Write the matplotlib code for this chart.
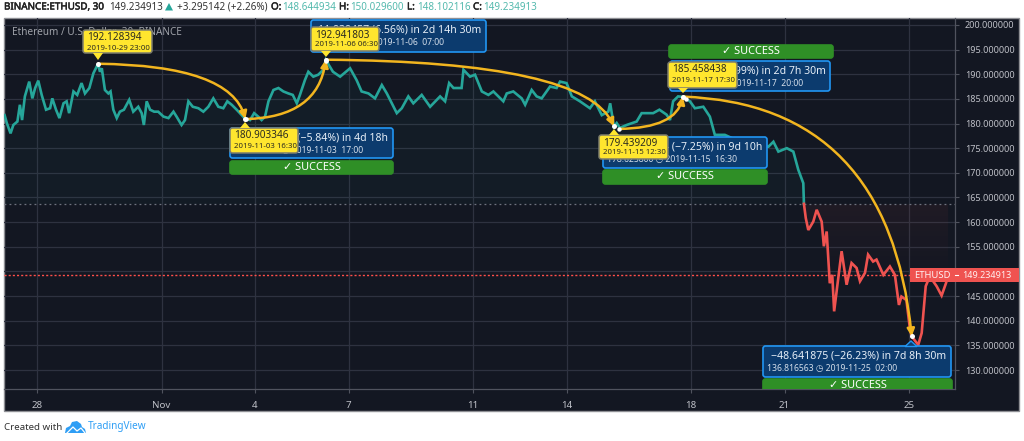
#!/usr/bin/env python
"""ETHUSD 30 min baseline chart with long/short annotations (TradingView look)."""
import numpy as np
import matplotlib
matplotlib.use("Agg")
import matplotlib.pyplot as plt
import matplotlib.patheffects as pe
from matplotlib.patches import FancyArrowPatch, FancyBboxPatch, Polygon, Rectangle
from matplotlib.path import Path

plt.rcParams["font.family"] = ["Noto Sans", "DejaVu Sans"]

BG = "#131722"
GRID = "#2e3240"
AXIS = "#50535e"
TEAL = "#26a69a"
RED = "#ef5350"
ARROW = "#f2b51f"
YELLOW = "#ffe62e"
NAVY = "#0c3b6e"
BLUE = "#2196f3"
GREEN = "#2f8f26"

# days since Oct 28 and close price
up_days = [-1.04, -0.97, -0.85, -0.76, -0.63, -0.55, -0.48, -0.39, -0.25, -0.15, -0.06, 0.04,
           0.15, 0.29, 0.42, 0.49, 0.61, 0.72, 0.85, 0.95, 1.03, 1.17, 1.29, 1.43, 1.54, 1.68,
           1.81, 1.96, 2.02, 2.08, 2.18, 2.29, 2.36, 2.45, 2.56, 2.66, 2.79, 2.96, 3.09, 3.25,
           3.36, 3.43, 3.52, 3.63, 3.76, 3.89, 4.06, 4.22, 4.38, 4.48, 4.64, 4.75, 4.86, 5.0,
           5.18, 5.34, 5.5, 5.66, 5.82, 5.98, 6.11, 6.25, 6.41, 6.57, 6.69, 6.84, 6.97, 7.1,
           7.21, 7.32, 7.43, 7.59, 7.75, 7.91, 8.07, 8.21, 8.34, 8.44, 8.6, 8.71, 8.87, 9.03,
           9.19, 9.27, 9.5, 9.73, 10.05, 10.26, 10.42, 10.64, 10.85, 11.07, 11.23, 11.39, 11.55,
           11.71, 11.92, 12.08, 12.35, 12.62, 12.94, 13.1, 13.23, 13.37, 13.63, 13.69, 13.9,
           14.06, 14.28, 14.49, 14.65, 14.97, 15.08, 15.29, 15.56, 15.67, 15.88, 16.04, 16.2,
           16.47, 16.68, 16.79, 17.0, 17.17, 17.43, 17.75, 17.91, 18.13, 18.34, 18.4, 18.52,
           18.61, 18.71, 18.93, 19.25, 19.41, 19.78, 19.98, 20.21, 20.32, 20.42, 20.58, 20.73,
           20.96, 21.12, 21.39, 21.6, 21.76, 22.08, 22.5, 23.0, 23.48, 23.64, 23.8, 24.07,
           24.28, 24.44, 24.6, 24.62]
up_prices = [181.7, 180.1, 178.0, 179.7, 180.4, 183.8, 180.7, 185.5, 188.5, 185.1, 187.2, 188.7,
             185.8, 182.8, 183.1, 185.1, 182.8, 181.1, 184.1, 184.5, 182.1, 186.5, 185.8, 188.2,
             186.1, 187.2, 190.2, 192.1, 190.5, 191.2, 186.8, 186.1, 186.5, 182.8, 181.1, 182.4,
             182.8, 184.8, 182.4, 183.4, 182.1, 179.7, 184.5, 182.8, 182.4, 182.4, 181.4, 181.1,
             182.4, 181.4, 179.7, 180.7, 184.5, 183.4, 183.1, 182.4, 183.4, 185.1, 183.4, 183.1,
             184.5, 183.8, 182.8, 181.7, 180.9, 180.7, 182.1, 181.4, 180.7, 181.4, 184.5, 186.8,
             187.2, 186.5, 186.1, 185.8, 184.1, 185.8, 188.8, 190.5, 189.5, 189.9, 190.9, 192.9,
             190.5, 189.5, 191.2, 188.8, 186.5, 186.1, 185.1, 187.8, 186.1, 184.1, 182.1, 183.1,
             185.5, 184.1, 185.8, 183.4, 185.5, 184.5, 188.2, 187.2, 187.2, 190.9, 189.5, 189.9,
             186.5, 185.8, 186.5, 184.5, 186.1, 186.5, 185.1, 183.8, 186.8, 185.5, 185.1, 187.5,
             187.2, 188.5, 188.2, 185.5, 184.5, 183.1, 184.5, 181.7, 182.4, 184.1, 179.4, 180.1,
             179.1, 179.7, 180.4, 182.1, 182.1, 182.8, 181.8, 180.7, 184.5, 185.5, 185.4, 184.5,
             183.1, 183.4, 181.4, 177.7, 177.7, 176.5, 175.5, 175.3, 176.3, 174.3, 175.0, 174.3,
             170.6, 167.9, 163.7]
down_days = [24.62, 24.68, 24.76, 24.92, 25.03, 25.19, 25.26, 25.35, 25.45, 25.53, 25.59, 25.69,
             25.83, 25.99, 26.15, 26.31, 26.42, 26.58, 26.68, 26.84, 26.95, 27.17, 27.38, 27.54,
             27.67, 27.75, 27.91, 28.02, 28.08, 28.29, 28.4, 28.53, 28.66, 28.88, 29.04, 29.18,
             29.25]
down_prices = [163.7, 160.8, 158.4, 160.1, 162.5, 160.1, 155.1, 158.1, 147.6, 149.3, 141.9, 147.0,
               154.1, 147.3, 151.7, 150.7, 148.0, 149.7, 153.4, 152.0, 152.4, 149.3, 151.0, 149.3,
               143.2, 144.9, 144.2, 138.5, 136.8, 135.1, 137.5, 147.0, 149.0, 147.0, 145.1, 147.6,
               149.2]

baseline = 163.6
last_price = 149.234913

# drawn position points
anchor_days = [1.96, 6.69, 9.27, 18.52, 20.73, 28.08]
anchor_prices = [192.128394, 180.903346, 192.941803, 179.439209, 185.458438, 136.816563]
exit_days = [6.71, 9.29, 18.69, 20.83]
exit_prices = [180.9, 192.7, 178.9, 184.9]
arrow_pairs = [(0, 1), (1, 2), (2, 3), (3, 4), (4, 5)]

tick_days = [0, 4, 7, 10, 14, 17, 21, 24, 28]
tick_names = ["28", "Nov", "4", "7", "11", "14", "18", "21", "25"]
price_ticks = list(range(130, 201, 5))

# yellow labels: px box (left, top, right, bottom), pointer tip, price, time
yellow_boxes = [
    ((83, 30, 152, 53), (98, 60), "192.128394", "2019-10-29 23:00"),
    ((230, 128, 298, 153), (245, 122), "180.903346", "2019-11-03 16:30"),
    ((311, 27, 379, 51), (326, 57), "192.941803", "2019-11-06 06:30"),
    ((599, 135, 668, 159), (614, 129), "179.439209", "2019-11-15 12:30"),
    ((668, 62, 737, 88), (683, 93), "185.458438", "2019-11-17 17:30"),
]
# blue labels: px box, px end of each row, change text, target text
blue_boxes = [
    ((230, 128, 393, 158), 388, 363, "\u221211.224... (\u22125.84%) in 4d 18h", "180.903346 \u25f7 2019-11-03  17:00"),
    ((311, 20, 486, 52), 481, 444, "+11.838457 (6.56%) in 2d 14h 30m", "192.741803 \u25f7 2019-11-06  07:00"),
    ((603, 137, 767, 168), 762, 737, "\u221213.502594 (\u22127.25%) in 9d 10h", "178.625800 \u25f7 2019-11-15  16:30"),
    ((670, 61, 830, 91), 826, 803, "+6.019229 (3.99%) in 2d 7h 30m", "185.458438 \u25f7 2019-11-17  20:00"),
    ((763, 346, 951, 377), 946, 897, "\u221248.641875 (\u221226.23%) in 7d 8h 30m", "136.816563 \u25f7 2019-11-25  02:00"),
]
success_boxes = [(230, 161, 393, 174), (603, 170, 767, 184), (669, 45, 833, 58), (763, 379, 952, 396)]

# header pieces: px x, text, colour, bold
header = [
    (4, "BINANCE:ETHUSD, 30", "#222222", True),
    (109, "149.234913", "#333333", False),
    (177, "+3.295142 (+2.26%)", "#333333", False),
    (271, "O:", "#222222", True),
    (282, "148.644934", "#53b9ad", False),
    (339, "H:", "#222222", True),
    (350, "150.029600", "#53b9ad", False),
    (407, "L:", "#222222", True),
    (417, "148.102116", "#53b9ad", False),
    (473, "C:", "#222222", True),
    (483, "149.234913", "#53b9ad", False),
]


def gradient_fill(ax, days, prices, rgb, top, bottom, a_top, a_bottom):
    """vertical alpha gradient between the line and the baseline"""
    poly = ax.fill_between(days, prices, baseline, color="none", lw=0)
    grad = np.zeros((64, 2, 4))
    grad[..., :3] = matplotlib.colors.to_rgb(rgb)
    grad[..., 3] = np.linspace(a_top, a_bottom, 64)[:, None]
    xlim, ylim = ax.get_xlim(), ax.get_ylim()
    im = ax.imshow(grad, extent=(days[0], days[-1], bottom, top), aspect="auto", origin="upper", zorder=1)
    im.set_clip_path(poly.get_paths()[0], transform=ax.transData)
    ax.set_xlim(xlim); ax.set_ylim(ylim)


def curve(ax, x0, y0, x1, y1):
    # leaves flat, lands steep, same as the drawn trend arrows
    ctrl = (x0 + 0.9 * (x1 - x0), y0 + 0.03 * (y1 - y0))
    path = Path([(x0, y0), ctrl, (x1, y1)], [Path.MOVETO, Path.CURVE3, Path.CURVE3])
    ax.add_patch(FancyArrowPatch(path=path, transform=ax.transData, arrowstyle="-|>", color=ARROW,
                                 lw=1.8, mutation_scale=11, zorder=5))


def rounded(ov, box, face, edge=None, lw=1.2, pad=1.5, z=3):
    l, t, r, b = box
    p = FancyBboxPatch((l + pad, t + pad), r - l - 2 * pad, b - t - 2 * pad,
                       boxstyle=f"round,pad={pad},rounding_size=2.5", fc=face,
                       ec=edge if edge else face, lw=lw, zorder=z)
    ov.add_patch(p)
    return p


def main():
    fig = plt.figure(figsize=(10.24, 4.41), dpi=100, facecolor="white")
    W, H = 1024.0, 441.0
    heavy = [pe.withStroke(linewidth=0.35, foreground="#222222")]

    # background panel, pixels
    bg = fig.add_axes([0, 0, 1, 1], zorder=0)
    bg.set_xlim(0, W); bg.set_ylim(H, 0); bg.axis("off")
    bg.add_patch(Rectangle((4, 18), 1015, 393, fc=BG, ec="#8e8f94", lw=1))

    # price pane
    ax = fig.add_axes([4 / W, 1 - 389 / H, 951 / W, 371 / H], zorder=1)
    ax.patch.set_visible(False)
    ax.set_xlim(-1.06, 29.47)
    ax.set_ylim(126.15, 201.4)
    ax.set_xticks(tick_days, tick_names)
    ax.set_yticks(price_ticks, [f"{p:.6f}" for p in price_ticks])
    ax.yaxis.tick_right()
    ax.tick_params(axis="both", colors=AXIS, length=3, width=0.8, pad=4, labelcolor="#bfc1c8", labelsize=6.5)
    ax.tick_params(axis="x", pad=6, labelsize=7)
    ax.grid(True, color=GRID, lw=0.9)
    ax.set_axisbelow(True)
    for s in ("top", "left"):
        ax.spines[s].set_visible(False)
    for s in ("right", "bottom"):
        ax.spines[s].set_color(AXIS); ax.spines[s].set_linewidth(0.9)

    gradient_fill(ax, up_days, up_prices, TEAL, 193, baseline, 0.05, 0.035)
    gradient_fill(ax, down_days, down_prices, RED, baseline, 148, 0.06, 0.0)
    ax.axhline(baseline, color="#6f737f", lw=0.9, ls=(0, (1.5, 2.5)), zorder=2)
    ax.axhline(last_price, color="#ff4f4a", lw=1.0, ls=(0, (1.5, 1.5)), zorder=2)
    ax.plot(up_days, up_prices, color=TEAL, lw=1.9, zorder=3, solid_joinstyle="miter")
    ax.plot(down_days, down_prices, color=RED, lw=1.9, zorder=3, solid_joinstyle="miter")

    ax.text(8 / 951, 1 - 14.5 / 371, "Ethereum / U.S. Dollar, 30, BINANCE", transform=ax.transAxes,
            color="#a0a3aa", fontsize=7.2, va="center", zorder=2)

    # overlay for annotation boxes, pixels
    ov = fig.add_axes([0, 0, 1, 1], zorder=2)
    ov.patch.set_visible(False)
    ov.set_xlim(0, W); ov.set_ylim(H, 0); ov.axis("off")

    clip = Rectangle((4, 18), 1015, 371, transform=ov.transData)
    for i, (l, t, r, b) in enumerate(success_boxes):
        p = rounded(ov, (l, t, r, b), GREEN)
        txt = ov.text((l + r) / 2, (t + 6.5), "\u2713 SUCCESS", color="white", fontsize=7.9,
                      fontweight="bold", ha="center", va="center", zorder=4)
        if i == 3:
            p.set_clip_path(clip)
            txt.set_clip_on(True); txt.set_clip_path(clip)

    for (l, t, r, b), end1, end2, line1, line2 in blue_boxes:
        rounded(ov, (l, t, r, b), NAVY, BLUE)
        ov.text(end1, t + 10, line1, color="#e6eef7", fontsize=7.6, ha="right", va="center", zorder=4)
        ov.text(end2, t + 22.5, line2, color="#d5dfeb", fontsize=6.2, ha="right", va="center", zorder=4)
    ov.add_patch(Polygon([(905, 346.5), (911, 341), (917, 346.5)], fc=NAVY, ec=BLUE, lw=1, zorder=3.5))

    for (l, t, r, b), tip, price, when in yellow_boxes:
        mid = tip[0]
        edge_y = b if tip[1] > b else t
        ov.add_patch(Polygon([(mid - 5, edge_y), tip, (mid + 5, edge_y)], fc=YELLOW, ec="none", zorder=4.6))
        rounded(ov, (l, t, r, b), YELLOW, "#7d7d6c", lw=1.1, pad=1, z=4.5)
        ov.text(l + 4, t + 8, price, color="#2b2b20", fontsize=7.2, va="center", zorder=5)
        ov.text(l + 4, t + 18, when, color="#2b2b20", fontsize=5.6, va="center", zorder=5)

    # trend arrows and anchors go above the boxes, in data space
    ax2 = fig.add_axes(ax.get_position(), zorder=3, sharex=ax, sharey=ax)
    ax2.patch.set_visible(False); ax2.axis("off")
    starts = [(anchor_days[0], anchor_prices[0]), (exit_days[0], exit_prices[0]),
              (anchor_days[2], anchor_prices[2]), (exit_days[2], exit_prices[2]),
              (anchor_days[4], anchor_prices[4])]
    for (a, b), (sx, sy) in zip(arrow_pairs, starts):
        curve(ax2, sx, sy, anchor_days[b], anchor_prices[b])
    ax2.plot(anchor_days, anchor_prices, "o", color="white", ms=3.6, mew=0, zorder=6)
    ax2.plot(exit_days, exit_prices, "o", color="white", ms=3.2, mew=0, zorder=6)

    # last price tag
    top = fig.add_axes([0, 0, 1, 1], zorder=4)
    top.patch.set_visible(False)
    top.set_xlim(0, W); top.set_ylim(H, 0); top.axis("off")
    top.add_patch(Rectangle((910, 268), 108.5, 14, fc=RED, ec="none"))
    top.plot([955, 958], [275, 275], color="white", lw=0.8)
    top.text(932.5, 275, "ETHUSD", color="#fff0f0", fontsize=6.8, ha="center", va="center")
    top.text(962, 275, f"{last_price:.6f}", color="#fff0f0", fontsize=6.5, va="center")

    # header row
    for x, s, c, bold in header:
        top.text(x, 7, s, color=c, fontsize=7.1, va="center", fontweight="bold" if bold else "normal",
                 path_effects=heavy if bold else None)
    top.add_patch(Polygon([(165, 10.5), (169, 3), (173, 10.5)], fc="#26a69a", ec="none"))

    # footer with the cloud mark
    top.text(4, 427, "Created with", color="#333333", fontsize=7.0, va="center")
    top.add_patch(Polygon([(65, 433), (66, 428), (70, 426), (72, 422), (77, 421), (81, 424), (82, 427),
                           (85, 429), (86, 433)], fc="#2e9ef5", ec="none"))
    top.plot([67, 73, 77, 81, 85], [433, 427, 431, 428, 433], color="white", lw=0.9)
    top.text(88, 427, "TradingView", color="#2e9ef5", fontsize=7.2, va="center")

    fig.savefig("out.png", dpi=100)


if __name__ == "__main__":
    main()
